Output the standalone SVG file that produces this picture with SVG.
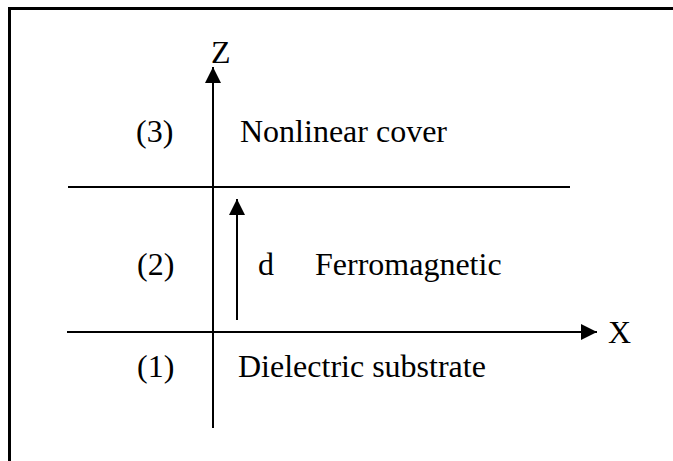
<svg xmlns="http://www.w3.org/2000/svg" width="673" height="461" viewBox="0 0 673 461">
<defs>
<style>
.t{font-family:"Liberation Serif","Times New Roman",serif;font-size:32px;fill:#000}
.ln{stroke:#000;stroke-width:2;fill:none}
</style>
<marker id="ah" markerUnits="userSpaceOnUse" viewBox="0 0 16 16" markerWidth="16" markerHeight="16" refX="16" refY="8" orient="auto">
<path d="M0,0 L16,8 L0,16 Z" fill="#000"/>
</marker>
</defs>
<rect width="673" height="461" fill="#fff"/>
<g id="frame">
<path d="M9.5,461 V8.5 H673" stroke="#000" stroke-width="3" fill="none"/>
</g>
<g id="connectors">
<line class="ln" x1="213" y1="428" x2="213" y2="67" marker-end="url(#ah)"/>
<line class="ln" x1="67" y1="332" x2="597" y2="332" marker-end="url(#ah)"/>
<line class="ln" x1="68" y1="187" x2="570" y2="187"/>
<line class="ln" x1="237" y1="320" x2="237" y2="199" marker-end="url(#ah)"/>
</g>
<g id="axis-z"><text class="t" x="211" y="63">Z</text></g>
<g id="axis-x"><text class="t" x="608" y="343">X</text></g>
<g id="layer3">
<text class="t" x="136" y="142">(3)</text>
<text class="t" x="240" y="142">Nonlinear cover</text>
</g>
<g id="layer2">
<text class="t" x="137" y="275">(2)</text>
<text class="t" x="258" y="275">d</text>
<text class="t" x="315" y="275">Ferromagnetic</text>
</g>
<g id="layer1">
<text class="t" x="137" y="377">(1)</text>
<text class="t" x="238" y="377">Dielectric substrate</text>
</g>
</svg>
